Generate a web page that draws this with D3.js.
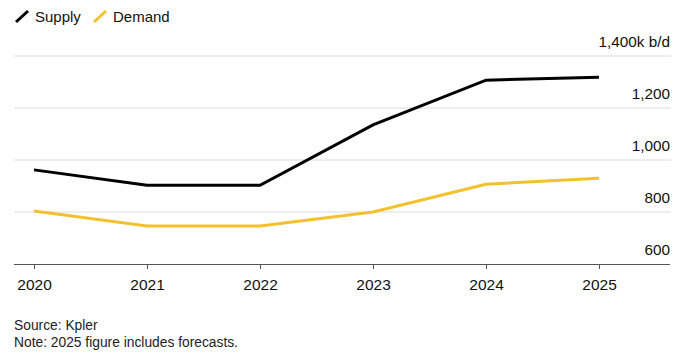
<!DOCTYPE html>
<html><head><meta charset="utf-8">
<script src="https://cdn.jsdelivr.net/npm/d3@7"></script>
<style>body{margin:0;background:#fff}svg{display:block;font-family:"Liberation Sans",Arial,sans-serif}</style>
</head><body><svg id="c" width="700" height="357"></svg>
<script>
const years = [2020, 2021, 2022, 2023, 2024, 2025];
const supply = [962, 903, 903, 1135, 1307, 1318];
const demand = [804, 746, 746, 800, 907, 930];
const yTicks = [600, 800, 1000, 1200, 1400];
const seriesNames = ["Supply", "Demand"];
const colors = ["#000000", "#f4c12e"];

const svg = d3.select("#c");
const x = d3.scalePoint().domain(years).range([34, 599]);
const y = d3.scaleLinear().domain([600, 1400]).range([264, 56]);

// gridlines
svg.append("g").selectAll("line").data(yTicks.filter(d => d > 600)).join("line")
  .attr("x1", 14).attr("x2", 671).attr("y1", d => y(d)).attr("y2", d => y(d))
  .attr("stroke", "#dcdcdc").attr("stroke-width", 1);
// y labels
svg.append("g").selectAll("text").data(yTicks).join("text")
  .attr("x", 670).attr("y", d => y(d) - 9).attr("text-anchor", "end")
  .attr("font-size", 15.3).attr("fill", "#111")
  .text(d => d3.format(",")(d) + (d === 1400 ? "k b/d" : ""));

// x axis
const xAxis = d3.axisBottom(x).tickSize(5).tickSizeOuter(0).tickPadding(10);
const gx = svg.append("g").attr("transform", "translate(0,264)").call(xAxis);
gx.select(".domain").attr("d", "M14,0.5H670").attr("stroke", "#555");
gx.selectAll(".tick line").attr("stroke", "#555").attr("y1", 0).attr("y2", 5);
gx.selectAll(".tick text").attr("font-size", 15.5).attr("fill", "#111").attr("font-family", "Liberation Sans, Arial, sans-serif");

// lines
const line = d3.line().x((d, i) => x(years[i])).y(d => y(d));
[supply, demand].forEach((s, i) => {
  svg.append("path").datum(s).attr("d", line).attr("fill", "none")
    .attr("stroke", colors[i]).attr("stroke-width", 3).attr("stroke-linejoin", "miter");
});

// legend
const leg = [{ n: seriesNames[0], c: colors[0], x: 16 }, { n: seriesNames[1], c: colors[1], x: 94 }];
leg.forEach(l => {
  svg.append("line").attr("x1", l.x).attr("y1", 22).attr("x2", l.x + 12).attr("y2", 11)
    .attr("stroke", l.c).attr("stroke-width", 3);
  svg.append("text").attr("x", l.x + 19).attr("y", 22).attr("font-size", 15).attr("fill", "#111").text(l.n);
});

// footer
svg.append("text").attr("x", 14).attr("y", 330).attr("font-size", 13.8).attr("fill", "#222").text("Source: Kpler");
svg.append("text").attr("x", 14).attr("y", 347).attr("font-size", 13.8).attr("fill", "#222").text("Note: 2025 figure includes forecasts.");
</script></body></html>
